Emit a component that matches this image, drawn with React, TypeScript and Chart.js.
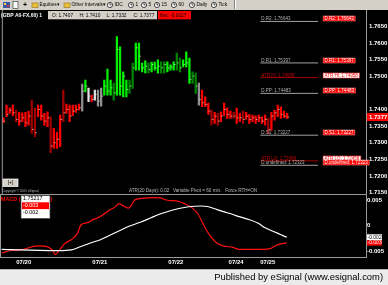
import React, { useEffect, useRef } from 'react';
import { Chart, registerables } from 'chart.js';

Chart.register(...registerables);

const W = 388;
const H = 285;
const FONT = '"Liberation Sans", Arial, sans-serif';

// ---------------- price bars (hourly) ----------------
const barHigh = [
  1.7375, 1.7413, 1.7405, 1.7413, 1.7398, 1.7391, 1.7390, 1.7391, 1.7395, 1.7428,
  1.7404, 1.7413, 1.7413, 1.7388, 1.7393, 1.7378, 1.7343, 1.7331, 1.7383, 1.7458,
  1.7416, 1.7413, 1.7413, 1.7413, 1.7416, 1.7476, 1.7488, 1.7464, 1.7443, 1.7458,
  1.7458, 1.7464, 1.7488, 1.7521, 1.7488, 1.7479, 1.7619, 1.7588, 1.7513, 1.7488,
  1.7488, 1.7539, 1.7599, 1.7599, 1.7539, 1.7546, 1.7539, 1.7542, 1.7542, 1.7549,
  1.7543, 1.7543, 1.7543, 1.7534, 1.7543, 1.7569, 1.7554, 1.7549, 1.7573, 1.7554,
  1.7513, 1.7509, 1.7479, 1.7458, 1.7438, 1.7419, 1.7398, 1.7391, 1.7388, 1.7393,
  1.7419, 1.7405, 1.7395, 1.7391, 1.7404, 1.7388, 1.7395, 1.7391, 1.7385, 1.7383,
  1.7381, 1.7383, 1.7378, 1.7383, 1.7373, 1.7391, 1.7398, 1.7413, 1.7408, 1.7395, 1.7388,
];
const barLow = [
  1.7360, 1.7378, 1.7388, 1.7381, 1.7363, 1.7353, 1.7363, 1.7348, 1.7353, 1.7328,
  1.7318, 1.7378, 1.7368, 1.7353, 1.7348, 1.7270, 1.7283, 1.7283, 1.7288, 1.7363,
  1.7388, 1.7363, 1.7381, 1.7391, 1.7398, 1.7395, 1.7453, 1.7423, 1.7423, 1.7428,
  1.7410, 1.7410, 1.7443, 1.7443, 1.7443, 1.7428, 1.7443, 1.7443, 1.7438, 1.7438,
  1.7448, 1.7463, 1.7518, 1.7518, 1.7513, 1.7510, 1.7510, 1.7513, 1.7518, 1.7509,
  1.7509, 1.7509, 1.7513, 1.7518, 1.7518, 1.7518, 1.7513, 1.7528, 1.7528, 1.7478,
  1.7478, 1.7448, 1.7413, 1.7408, 1.7408, 1.7385, 1.7353, 1.7358, 1.7353, 1.7363,
  1.7381, 1.7373, 1.7373, 1.7373, 1.7358, 1.7363, 1.7358, 1.7371, 1.7358, 1.7363,
  1.7358, 1.7363, 1.7358, 1.7353, 1.7328, 1.7338, 1.7368, 1.7378, 1.7373, 1.7375, 1.7373,
];
const barClose = [
  1.7365, 1.7385, 1.7398, 1.7390, 1.7370, 1.7365, 1.7375, 1.7360, 1.7380, 1.7340,
  1.7330, 1.7400, 1.7380, 1.7365, 1.7375, 1.7290, 1.7300, 1.7310, 1.7370, 1.7390,
  1.7400, 1.7380, 1.7395, 1.7400, 1.7405, 1.7455, 1.7470, 1.7440, 1.7430, 1.7445,
  1.7425, 1.7440, 1.7470, 1.7455, 1.7465, 1.7450, 1.7580, 1.7470, 1.7500, 1.7460,
  1.7470, 1.7525, 1.7585, 1.7560, 1.7525, 1.7530, 1.7520, 1.7535, 1.7525, 1.7530,
  1.7525, 1.7535, 1.7525, 1.7528, 1.7535, 1.7540, 1.7525, 1.7535, 1.7540, 1.7490,
  1.7500, 1.7470, 1.7430, 1.7420, 1.7415, 1.7395, 1.7370, 1.7380, 1.7365, 1.7380,
  1.7400, 1.7385, 1.7380, 1.7380, 1.7375, 1.7375, 1.7370, 1.7380, 1.7370, 1.7375,
  1.7370, 1.7375, 1.7365, 1.7370, 1.7340, 1.7380, 1.7390, 1.7400, 1.7385, 1.7380, 1.7377,
];
// r = red, R = dark red, g = green, G = dark green, w = light grey, k = grey
const barTone = [
  'r', 'r', 'r', 'r', 'R', 'r', 'r', 'r', 'r', 'R',
  'R', 'r', 'r', 'r', 'r', 'R', 'r', 'r', 'r', 'R',
  'r', 'r', 'r', 'r', 'r', 'k', 'g', 'w', 'r', 'w',
  'k', 'k', 'g', 'g', 'g', 'G', 'g', 'g', 'g', 'g',
  'G', 'G', 'g', 'g', 'g', 'g', 'G', 'g', 'g', 'g',
  'G', 'G', 'g', 'g', 'g', 'G', 'G', 'g', 'g', 'g',
  'G', 'G', 'k', 'r', 'r', 'r', 'R', 'r', 'R', 'r',
  'r', 'r', 'r', 'R', 'r', 'r', 'R', 'r', 'r', 'r',
  'r', 'r', 'r', 'r', 'R', 'r', 'r', 'r', 'r', 'r', 'r',
];
const toneColor: Record<string, string> = {
  r: '#ff0000', R: '#a00000', g: '#00f000', G: '#008400', w: '#e0e0e0', k: '#909090',
};

const priceTicks = [1.765, 1.76, 1.755, 1.75, 1.74, 1.735, 1.73, 1.725, 1.72, 1.715];
const lastPrice = 1.7377;

const headerSymbol = '(GBP A0-FX,60) 1';
const ohlcNames = ['O', 'H', 'L', 'C'];
const ohlcValues = [1.7407, 1.741, 1.7332, 1.7377];
const netChange = -0.0027;

const pivotNames = ['D.R2', 'D.R1', 'ATR HI', 'D.PP', 'D.S1', 'ATR LO', 'D.undefined'];
const pivotValues = [1.76643, 1.75397, 1.74958, 1.74483, 1.73227, 1.72458, 1.72323];
const pivotKinds = ['d', 'd', 'atr', 'd', 'd', 'atr', 'd'];

const infoText = 'ATR(20 Days): 0.02   Variable Pivot = 60 min.   Force RTH=ON';
const copyrightText = 'Copyright \u00a9 2005 eSignal.';

const dateLabels = ['07/20', '07/21', '07/22', '07/24', '07/25'];
const dateBars = [7, 31, 55, 74, 84];

// ---------------- MACD ----------------
const macdIdx = [0, 3, 6, 8, 10, 12, 14, 16, 17, 18, 20, 22, 24, 25, 27, 29, 30, 32, 34, 36, 37, 38, 40, 41, 42, 44,
  48, 50, 52, 56, 58, 60, 62, 64, 66, 68, 70, 73, 75, 78, 82, 85, 87, 90];
const macdVals = [-0.0054, -0.0049, -0.0048, -0.0045, -0.0041, -0.004, -0.0041, -0.0048, -0.0057, -0.005,
  -0.0035, -0.0028, -0.0015, 0.0001, 0.00055, 0.0012, 0.0014, 0.0021, 0.003, 0.0037, 0.0043, 0.004, 0.0034,
  0.004, 0.005, 0.0053, 0.00545, 0.0054, 0.005, 0.0047, 0.0042, 0.0035, 0.00225, -0.0002, -0.0022, -0.0035,
  -0.004, -0.0043, -0.0047, -0.0047, -0.0047, -0.0045, -0.0038, -0.0034];
const sigIdx = [0, 6, 12, 18, 22, 25, 28, 31, 34, 37, 40, 44, 47, 50, 53, 56, 59, 63, 65, 67, 70, 73, 75, 78, 81,
  83, 86, 88, 90];
const sigVals = [-0.00467, -0.0048, -0.0049, -0.00494, -0.0048, -0.00412, -0.00343, -0.00284, -0.00196,
  -0.00108, -0.0002, 0.00069, 0.00147, 0.00225, 0.00284, 0.00333, 0.00367, 0.00382, 0.00373, 0.00333, 0.00271,
  0.00216, 0.00173, 0.00118, 0.00043, -0.00039, -0.00122, -0.00176, -0.00231];
const macdTicks = [0.005, 0, -0.005];
const macdLegend = ['1.75217', '-0.003', '-0.002'];

// ---------------- chrome texts ----------------
const toolbarMenus = ['Equities', 'Other Intervals'];
const intervalLabels = ['IDC', '1', '5', '15', '60', 'Daily', 'Tick'];
const footerText = 'Published by eSignal (www.esignal.com)';

// ---------------- layout ----------------
const PRICE_TOP = 11;
const PRICE_BOTTOM = 194;
const MACD_TOP = 195;
const MACD_BOTTOM = 257;
const AXIS_W = 22;
const XAXIS_H = 13;
const X_MIN = -0.5;
const X_MAX = 115;
const PRICE_MIN = 1.71461;
const PRICE_MAX = 1.769565;
const MACD_MIN = -0.00618;
const MACD_MAX = 0.00598;
const PIV_FROM = 81.5;
const PIV_TO = 99.8;
const PIV_BOX = 101.4;
const FRAME = '#9a9a9a';

function drawClock(ctx: CanvasRenderingContext2D, x: number, y: number) {
  ctx.beginPath();
  ctx.arc(x, y, 2.6, 0, Math.PI * 2);
  ctx.fillStyle = '#f8f8f8';
  ctx.fill();
  ctx.strokeStyle = '#202020';
  ctx.lineWidth = 0.8;
  ctx.stroke();
  ctx.beginPath();
  ctx.moveTo(x, y - 1.8);
  ctx.lineTo(x, y);
  ctx.lineTo(x + 1.4, y);
  ctx.stroke();
}

const chromePlugin = {
  id: 'chrome',
  afterDraw(chart: any) {
    const ctx: CanvasRenderingContext2D = chart.ctx;
    ctx.save();
    // toolbar
    ctx.fillStyle = '#d4d0c8';
    ctx.fillRect(0, 0, W, 10);
    ctx.fillStyle = '#3a58a8';
    ctx.fillRect(3, 2, 7, 6);
    ctx.fillStyle = '#ffd23c';
    ctx.fillRect(4, 3, 2, 2);
    ctx.fillStyle = '#e03030';
    ctx.fillRect(7, 5, 2, 2);
    ctx.fillStyle = '#ffffff';
    ctx.fillRect(13, 1.5, 5, 7);
    ctx.strokeStyle = '#404040';
    ctx.lineWidth = 0.7;
    ctx.strokeRect(13, 1.5, 5, 7);
    ctx.fillStyle = '#000';
    ctx.font = `bold 7px ${FONT}`;
    ctx.textBaseline = 'middle';
    ctx.textAlign = 'left';
    ctx.fillText('+', 23, 5);
    const folderX = [32, 64];
    const menuX = [39.5, 71.5];
    const arrowX = [57, 103];
    toolbarMenus.forEach((m, k) => {
      ctx.fillStyle = '#e8c040';
      ctx.fillRect(folderX[k], 3, 6, 4.5);
      ctx.strokeStyle = '#a07818';
      ctx.strokeRect(folderX[k], 3, 6, 4.5);
      ctx.fillStyle = '#000';
      ctx.font = `4.8px ${FONT}`;
      ctx.fillText(m, menuX[k], 5);
      ctx.font = `5px ${FONT}`;
      ctx.fillText('\u25be', arrowX[k], 5);
    });
    const clockX = [110, 131, 144, 157, 174, 192, 214];
    intervalLabels.forEach((t, k) => {
      drawClock(ctx, clockX[k], 5);
      ctx.fillStyle = '#000';
      ctx.font = `4.8px ${FONT}`;
      ctx.fillText(t, clockX[k] + 4.5, 5);
    });
    ctx.fillStyle = '#808080';
    ctx.fillRect(234, 0, 1, 9);
    ctx.fillStyle = '#ffffff';
    ctx.fillRect(235, 0, 1, 9);
    // footer
    ctx.fillStyle = '#b4b4b4';
    ctx.fillRect(0, 269, W, 1);
    ctx.fillStyle = '#ebebeb';
    ctx.fillRect(0, 270, W, H - 270);
    ctx.fillStyle = '#000';
    ctx.font = `9.4px ${FONT}`;
    ctx.textAlign = 'right';
    ctx.fillText(footerText, 383, 277.5);
    ctx.restore();
  },
};

const pricePlugin = {
  id: 'priceDecor',
  afterDraw(chart: any) {
    const ctx: CanvasRenderingContext2D = chart.ctx;
    const ca = chart.chartArea;
    const xs = chart.scales.x;
    const ys = chart.scales.y;
    ctx.save();
    // frame
    ctx.strokeStyle = FRAME;
    ctx.lineWidth = 1;
    ctx.beginPath();
    ctx.moveTo(ca.right + 0.5, ca.top - 1);
    ctx.lineTo(ca.right + 0.5, ca.bottom);
    ctx.moveTo(0, ca.bottom + 0.5);
    ctx.lineTo(ca.right + 1, ca.bottom + 0.5);
    ctx.moveTo(ca.left + 0.5, ca.top - 1);
    ctx.lineTo(ca.left + 0.5, ca.bottom);
    ctx.stroke();

    // header row
    const hy = ca.top + 4.3;
    ctx.textBaseline = 'middle';
    ctx.textAlign = 'left';
    ctx.font = `bold 5px ${FONT}`;
    ctx.fillStyle = '#ffffff';
    ctx.fillText(headerSymbol, 1, hy);
    ctx.fillStyle = '#d4d0c8';
    ctx.fillRect(48, ca.top, 109, 8.3);
    ctx.fillStyle = '#ff0000';
    ctx.fillRect(158, ca.top, 33, 8.3);
    ctx.fillStyle = '#000';
    ctx.font = `4.8px ${FONT}`;
    const ohlcX = [52, 79.5, 106.5, 133.5];
    ohlcNames.forEach((n, k) => {
      ctx.fillText(`${n}: ${ohlcValues[k].toFixed(4)}`, ohlcX[k], hy);
    });
    ctx.fillText(`Net: ${netChange.toFixed(4)}`, 160, hy);

    // pivot labels
    const lx = xs.getPixelForValue(PIV_FROM);
    const bx = xs.getPixelForValue(PIV_BOX);
    pivotValues.forEach((v, k) => {
      const py = Math.round(ys.getPixelForValue(v));
      const txt = `${pivotNames[k]}: ${v.toFixed(5)}`;
      const atr = pivotKinds[k] === 'atr';
      ctx.font = `4.5px ${FONT}`;
      ctx.textBaseline = 'alphabetic';
      ctx.fillStyle = atr ? '#c40000' : '#b4b4b4';
      ctx.fillText(txt, lx + 1, py - 1);
      const tw = ctx.measureText(txt).width;
      const bw = tw + 3;
      const bh = 5;
      ctx.fillStyle = atr ? '#ffffff' : '#ff0000';
      ctx.fillRect(bx, py - bh, bw, bh);
      ctx.strokeStyle = atr ? '#ff5050' : '#ff8080';
      ctx.lineWidth = 0.6;
      ctx.strokeRect(bx, py - bh, bw, bh);
      ctx.fillStyle = atr ? '#ff0000' : '#ffffff';
      ctx.textBaseline = 'middle';
      ctx.fillText(txt, bx + 1.5, py - bh / 2);
    });

    // current price flag
    const cp = ys.getPixelForValue(lastPrice);
    ctx.fillStyle = '#ff0000';
    ctx.fillRect(ca.right + 1, Math.round(cp) - 4, AXIS_W - 1, 8);
    ctx.fillStyle = '#ffffff';
    ctx.font = `bold 6px ${FONT}`;
    ctx.textBaseline = 'middle';
    ctx.fillText(lastPrice.toFixed(4), ca.right + 3, Math.round(cp));

    // bottom of price pane
    ctx.fillStyle = '#d4d0c8';
    ctx.fillRect(3, ca.bottom - 15, 15, 7.5);
    ctx.strokeStyle = '#ffffff';
    ctx.lineWidth = 0.7;
    ctx.strokeRect(3, ca.bottom - 15, 15, 7.5);
    ctx.fillStyle = '#000';
    ctx.font = `5px ${FONT}`;
    ctx.textAlign = 'center';
    ctx.fillText('[+]', 10.5, ca.bottom - 11.2);
    ctx.textAlign = 'left';
    ctx.font = `3.2px ${FONT}`;
    ctx.fillStyle = '#b0b0b0';
    ctx.fillText(copyrightText, 2, ca.bottom - 3.3);
    ctx.font = `4.6px ${FONT}`;
    ctx.fillStyle = '#b8b8b8';
    ctx.fillText(infoText, 129, ca.bottom - 3.3);
    ctx.restore();
  },
};

const macdPlugin = {
  id: 'macdDecor',
  afterDraw(chart: any) {
    const ctx: CanvasRenderingContext2D = chart.ctx;
    const ca = chart.chartArea;
    const ys = chart.scales.y;
    ctx.save();
    ctx.strokeStyle = FRAME;
    ctx.lineWidth = 1;
    ctx.beginPath();
    ctx.moveTo(ca.right + 0.5, ca.top);
    ctx.lineTo(ca.right + 0.5, ca.bottom + 1);
    ctx.moveTo(0, ca.bottom + 0.5);
    ctx.lineTo(ca.right + 1, ca.bottom + 0.5);
    ctx.moveTo(ca.left + 0.5, ca.top);
    ctx.lineTo(ca.left + 0.5, ca.bottom);
    ctx.stroke();

    // legend
    ctx.textBaseline = 'middle';
    ctx.textAlign = 'left';
    ctx.font = `bold 5.4px ${FONT}`;
    ctx.fillStyle = '#ff0000';
    ctx.fillText('MACD (', 1, ca.top + 5);
    ctx.fillText(')', 50.5, ca.top + 5);
    ctx.fillStyle = '#ffffff';
    ctx.fillRect(21, ca.top + 0.5, 29, 23);
    ctx.strokeStyle = '#404040';
    ctx.lineWidth = 0.7;
    ctx.strokeRect(21, ca.top + 0.5, 29, 23);
    ctx.fillStyle = '#ff0000';
    ctx.fillRect(22, ca.top + 7.3, 27, 6.8);
    ctx.font = `5.4px ${FONT}`;
    const rowY = [ca.top + 3.6, ca.top + 10.7, ca.top + 18];
    const rowColor = ['#000000', '#ffffff', '#000000'];
    macdLegend.forEach((t, k) => {
      ctx.fillStyle = rowColor[k];
      ctx.fillText(t, 23, rowY[k]);
    });

    // value flags on the axis
    const sy = ys.getPixelForValue(sigVals[sigVals.length - 1]);
    const my = ys.getPixelForValue(macdVals[macdVals.length - 1]);
    ctx.font = `5px ${FONT}`;
    ctx.fillStyle = '#ffffff';
    ctx.fillRect(ca.right + 1, sy - 3, 15, 6);
    ctx.fillStyle = '#000';
    ctx.fillText(sigVals[sigVals.length - 1].toFixed(3), ca.right + 1.5, sy);
    ctx.fillStyle = '#ff0000';
    ctx.fillRect(ca.right + 1, my - 2.6, 15, 5.4);
    ctx.fillStyle = '#ffffff';
    ctx.fillText(macdVals[macdVals.length - 1].toFixed(3), ca.right + 1.5, my);
    ctx.restore();
  },
};

function priceConfig(): any {
  return {
    type: 'bar',
    data: {
      datasets: [
        {
          type: 'bar',
          data: barHigh.map((h, i) => ({ x: i, y: [barLow[i], h] })),
          backgroundColor: barTone.map((t) => toneColor[t]),
          barThickness: 1.6,
          borderWidth: 0,
          grouped: false,
          order: 3,
        },
        {
          type: 'line',
          data: barClose.map((c, i) => ({ x: i + 0.35, y: c })),
          showLine: false,
          pointStyle: 'line',
          pointRadius: 0.8,
          pointHoverRadius: 0,
          pointBorderWidth: 1,
          pointBorderColor: 'rgba(255,255,255,0.6)',
          order: 2,
        },
        ...pivotValues.map((v, k) => ({
          type: 'line',
          data: [
            { x: PIV_FROM, y: v },
            { x: PIV_TO, y: v },
          ],
          borderColor: pivotKinds[k] === 'atr' ? '#a00000' : '#a0a0a0',
          borderWidth: 1,
          pointRadius: 0,
          order: 1,
        })),
      ],
    },
    options: {
      animation: false,
      responsive: false,
      maintainAspectRatio: false,
      events: [],
      layout: { padding: { top: PRICE_TOP, bottom: H - PRICE_BOTTOM, left: 0, right: 0 } },
      plugins: { legend: { display: false }, tooltip: { enabled: false } },
      scales: {
        x: { type: 'linear', min: X_MIN, max: X_MAX, display: false, offset: false, grid: { offset: false } },
        y: {
          position: 'right',
          min: PRICE_MIN,
          max: PRICE_MAX,
          grid: { display: false, drawTicks: false },
          border: { display: false },
          ticks: {
            color: '#ffffff',
            font: { family: FONT, size: 6, weight: 'bold' },
            padding: 3,
            autoSkip: false,
            callback: (v: any) => Number(v).toFixed(4),
          },
          afterBuildTicks: (s: any) => {
            s.ticks = priceTicks.map((v) => ({ value: v }));
          },
          afterFit: (s: any) => {
            s.width = AXIS_W;
            s.paddingTop = 0;
            s.paddingBottom = 0;
          },
        },
      },
    },
    plugins: [chromePlugin, pricePlugin],
  };
}

function macdConfig(): any {
  return {
    type: 'line',
    data: {
      datasets: [
        {
          data: sigIdx.map((x, k) => ({ x, y: sigVals[k] })),
          borderColor: '#ffffff',
          borderWidth: 1.2,
          pointRadius: 0,
          cubicInterpolationMode: 'monotone',
        },
        {
          data: macdIdx.map((x, k) => ({ x, y: macdVals[k] })),
          borderColor: '#ff1010',
          borderWidth: 1.2,
          pointRadius: 0,
          cubicInterpolationMode: 'monotone',
        },
      ],
    },
    options: {
      animation: false,
      responsive: false,
      maintainAspectRatio: false,
      events: [],
      layout: { padding: { top: MACD_TOP, bottom: H - MACD_BOTTOM - XAXIS_H, left: 0, right: 0 } },
      plugins: { legend: { display: false }, tooltip: { enabled: false } },
      scales: {
        x: {
          type: 'linear',
          min: X_MIN,
          max: X_MAX,
          offset: false,
          grid: { display: false, drawTicks: false },
          border: { display: false },
          ticks: {
            color: '#ffffff',
            font: { family: FONT, size: 6, weight: 'bold' },
            padding: 2,
            autoSkip: false,
            maxRotation: 0,
            callback: (v: any) => {
              const k = dateBars.indexOf(Number(v));
              return k >= 0 ? dateLabels[k] : '';
            },
          },
          afterBuildTicks: (s: any) => {
            s.ticks = dateBars.map((v) => ({ value: v }));
          },
          afterFit: (s: any) => {
            s.height = XAXIS_H;
            s.paddingLeft = 0;
            s.paddingRight = 0;
          },
        },
        y: {
          position: 'right',
          min: MACD_MIN,
          max: MACD_MAX,
          grid: { display: false, drawTicks: false },
          border: { display: false },
          ticks: {
            color: '#ffffff',
            font: { family: FONT, size: 6, weight: 'bold' },
            padding: 1,
            autoSkip: false,
            callback: (v: any) => (Number(v) === 0 ? '0' : Number(v).toFixed(3)),
          },
          afterBuildTicks: (s: any) => {
            s.ticks = macdTicks.map((v) => ({ value: v }));
          },
          afterFit: (s: any) => {
            s.width = AXIS_W;
            s.paddingTop = 0;
            s.paddingBottom = 0;
          },
        },
      },
    },
    plugins: [macdPlugin],
  };
}

export default function App() {
  const priceRef = useRef<HTMLCanvasElement>(null);
  const macdRef = useRef<HTMLCanvasElement>(null);

  useEffect(() => {
    const c1 = new Chart(priceRef.current as HTMLCanvasElement, priceConfig());
    const c2 = new Chart(macdRef.current as HTMLCanvasElement, macdConfig());
    return () => {
      c1.destroy();
      c2.destroy();
    };
  }, []);

  const canvasStyle: React.CSSProperties = { position: 'absolute', left: 0, top: 0, width: W, height: H };
  return (
    <div style={{ position: 'fixed', left: 0, top: 0, width: W, height: H, background: '#000', overflow: 'hidden' }}>
      <canvas ref={priceRef} width={W} height={H} style={canvasStyle} />
      <canvas ref={macdRef} width={W} height={H} style={canvasStyle} />
    </div>
  );
}
